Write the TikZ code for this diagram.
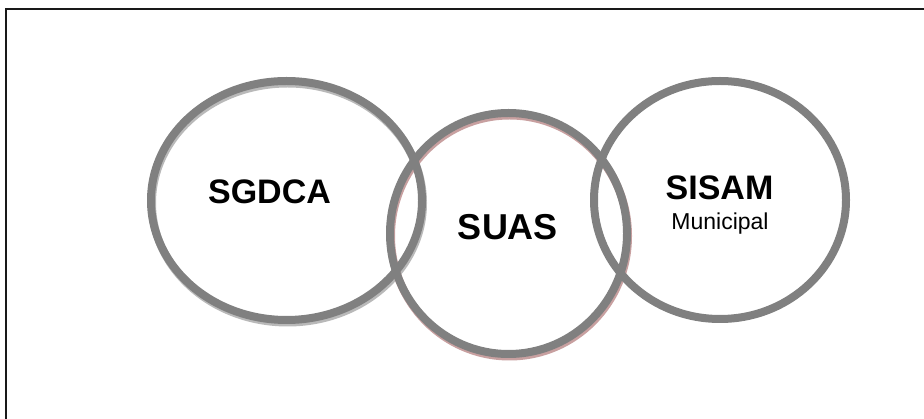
\documentclass[tikz,border=0pt]{standalone}
\usepackage{fontspec}
\setmainfont{Liberation Sans}
\usetikzlibrary{shapes.geometric}
\definecolor{ringgray}{RGB}{128,128,128}
\definecolor{shadegray}{RGB}{185,185,185}
\definecolor{shadepink}{RGB}{200,160,160}
\begin{document}
\begin{tikzpicture}[x=1pt,y=-1pt,
  ring/.style={draw=ringgray, line width=8pt, ellipse, inner sep=0pt, outer sep=0pt},
  ringshade/.style={draw=#1, line width=8pt, ellipse, inner sep=0pt, outer sep=0pt},
  bigtxt/.style={font=\bfseries\fontsize{34}{36}\selectfont, anchor=base, inner sep=0pt},
  smalltxt/.style={font=\fontsize{23}{25}\selectfont, anchor=base, inner sep=0pt}]
  \useasboundingbox (0,0) rectangle (924,419);
  \fill[white] (0,0) rectangle (924,419);
  % frame (only left and top edges visible)
  \draw[line width=1.5pt, black!90] (6,430) -- (6,9) -- (930,9);
  % shadows
  \node[ringshade=shadegray, minimum width=271pt, minimum height=239pt] (lsh) at (287.5,203) {};
  \node[ringshade=shadepink, minimum width=237pt, minimum height=241pt] (msh) at (509.5,236) {};
  % rings
  \node[ring, minimum width=271pt, minimum height=239pt] (sgdca) at (286.5,200.5) {};
  \node[ring, minimum width=237pt, minimum height=241pt] (suas) at (508.5,233.5) {};
  \node[ring, minimum width=252pt, minimum height=238pt] (sisam) at (720,200) {};
  % labels
  \node[bigtxt] (t1) at (269.5,204) {SGDCA};
  \node[bigtxt, font=\bfseries\fontsize{36}{38}\selectfont] (t2) at (508,240) {SUAS};
  \node[bigtxt] (t3) at (719.5,200) {SISAM};
  \node[smalltxt] (t4) at (720,230) {Municipal};
\end{tikzpicture}
\end{document}
